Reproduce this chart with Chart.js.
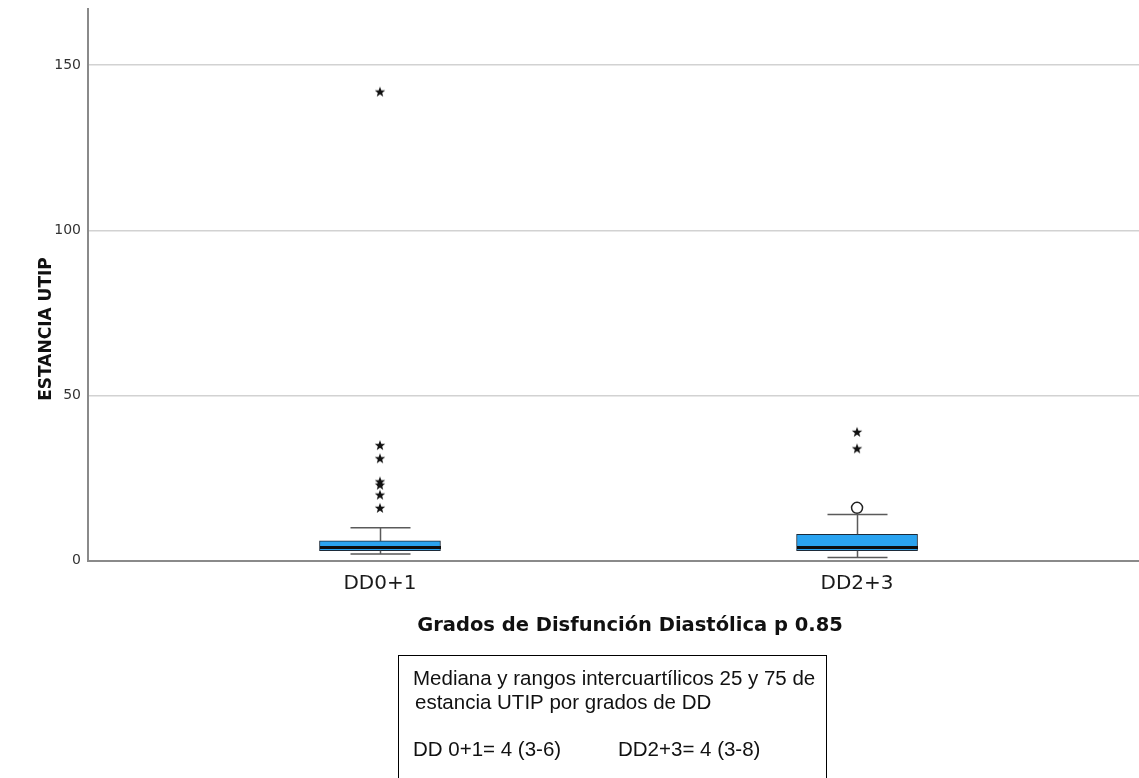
<!DOCTYPE html>
<html>
<head>
<meta charset="utf-8">
<script src="https://cdn.jsdelivr.net/npm/chart.js@4.4.1/dist/chart.umd.min.js"></script>
<style>
  html, body { margin: 0; padding: 0; background: #ffffff; }
  #wrap { width: 1139px; height: 778px; position: relative; }
  canvas { display: block; }
</style>
</head>
<body>
<div id="wrap"><canvas id="chart" width="1139" height="778"></canvas></div>
<script>
// Groups along the x axis
const categories = ['DD0+1', 'DD2+3'];

// Box-plot summary per group (days of stay)
const q1 = [3, 3];
const medians = [4, 4];
const q3 = [6, 8];
const whiskerLow = [2, 1];
const whiskerHigh = [10, 14];

// Extreme values (stars) and outliers (circles) per group
const extremesDD01 = [142, 35, 31, 24, 23, 20, 16];
const extremesDD23 = [39, 34];
const outliersDD23 = [16];

// Axis ticks and texts
const yTicks = [0, 50, 100, 150];
const yTitle = 'ESTANCIA UTIP';
const xTitle = 'Grados de Disfunción Diastólica p 0.85';
const noteLines = ['Mediana y rangos intercuartílicos 25 y 75 de', 'estancia UTIP por grados de DD'];
const noteSummary = ['DD 0+1= 4 (3-6)', 'DD2+3= 4 (3-8)'];

const BOX_WIDTH = 121;
const CAP_WIDTH = 60;

// Filled five-point star used for extreme values
function makeStar(size) {
  const c = document.createElement('canvas');
  c.width = size; c.height = size;
  const g = c.getContext('2d');
  const cx = size / 2, cy = size / 2 + 0.5;
  const outer = size / 2 - 0.5, inner = outer * 0.42;
  g.beginPath();
  for (let k = 0; k < 10; k++) {
    const r = k % 2 === 0 ? outer : inner;
    const a = -Math.PI / 2 + k * Math.PI / 5;
    const px = cx + r * Math.cos(a), py = cy + r * Math.sin(a);
    if (k === 0) g.moveTo(px, py); else g.lineTo(px, py);
  }
  g.closePath();
  g.fillStyle = '#111111';
  g.fill();
  return c;
}
const starImg = makeStar(12);

const boxData = categories.map((c, i) => ({ x: i, y: [q1[i], q3[i]] }));
const starData = [
  ...extremesDD01.map(v => ({ x: 0, y: v })),
  ...extremesDD23.map(v => ({ x: 1, y: v }))
];
const circleData = outliersDD23.map(v => ({ x: 1, y: v }));

// Whiskers, caps and median lines for each box
const boxDecor = {
  id: 'boxDecor',
  afterDatasetsDraw(chart) {
    const { ctx } = chart;
    const xs = chart.scales.x, ys = chart.scales.y;
    ctx.save();
    categories.forEach((c, i) => {
      const cx = Math.round(xs.getPixelForValue(i)) + 0.5;
      const yHi = ys.getPixelForValue(whiskerHigh[i]);
      const yLo = ys.getPixelForValue(whiskerLow[i]);
      const yQ3 = ys.getPixelForValue(q3[i]);
      const yQ1 = ys.getPixelForValue(q1[i]);
      ctx.strokeStyle = '#5a5a5a';
      ctx.lineWidth = 1.5;
      ctx.beginPath();
      ctx.moveTo(cx, yQ3); ctx.lineTo(cx, yHi);
      ctx.moveTo(cx - CAP_WIDTH / 2, yHi); ctx.lineTo(cx + CAP_WIDTH / 2, yHi);
      ctx.moveTo(cx, yQ1); ctx.lineTo(cx, yLo);
      ctx.moveTo(cx - CAP_WIDTH / 2, yLo); ctx.lineTo(cx + CAP_WIDTH / 2, yLo);
      ctx.stroke();
      const ym = ys.getPixelForValue(medians[i]);
      ctx.strokeStyle = '#0d0d0d';
      ctx.lineWidth = 3;
      ctx.beginPath();
      ctx.moveTo(cx - BOX_WIDTH / 2, ym); ctx.lineTo(cx + BOX_WIDTH / 2, ym);
      ctx.stroke();
    });
    ctx.restore();
  }
};

// Axis titles and the note box under the chart
const notes = {
  id: 'notes',
  afterDraw(chart) {
    const { ctx } = chart;
    ctx.save();
    ctx.fillStyle = '#111111';
    ctx.textBaseline = 'middle';
    ctx.textAlign = 'center';
    ctx.font = 'bold 19.5px "DejaVu Sans"';
    ctx.fillText(xTitle, 630, 626);

    ctx.save();
    ctx.translate(47, 329);
    ctx.rotate(-Math.PI / 2);
    ctx.font = 'bold 17px "DejaVu Sans"';
    ctx.fillText(yTitle, 0, 0);
    ctx.restore();

    ctx.strokeStyle = '#000000';
    ctx.lineWidth = 1;
    ctx.strokeRect(398.5, 655.5, 428, 140);

    ctx.textAlign = 'left';
    ctx.font = '20.5px "Liberation Sans"';
    ctx.fillText(noteLines[0], 413, 679);
    ctx.fillText(noteLines[1], 415, 703);
    ctx.fillText(noteSummary[0], 413, 750);
    ctx.fillText(noteSummary[1], 618, 750);
    ctx.restore();
  }
};

new Chart(document.getElementById('chart'), {
  data: {
    datasets: [
      {
        type: 'scatter',
        data: starData,
        pointStyle: starImg,
        order: 0
      },
      {
        type: 'scatter',
        data: circleData,
        pointStyle: 'circle',
        radius: 5.5,
        borderColor: '#222222',
        borderWidth: 1.5,
        backgroundColor: '#ffffff',
        order: 0
      },
      {
        type: 'bar',
        data: boxData,
        backgroundColor: '#2aa3f0',
        borderColor: '#1c2b3a',
        borderWidth: 1,
        borderSkipped: false,
        barThickness: BOX_WIDTH,
        grouped: false,
        order: 1
      }
    ]
  },
  options: {
    responsive: false,
    animation: false,
    devicePixelRatio: 1,
    layout: { autoPadding: false, padding: { top: 9, right: 0, left: 0, bottom: 0 } },
    plugins: {
      legend: { display: false },
      tooltip: { enabled: false },
      title: { display: false }
    },
    scales: {
      x: {
        type: 'linear',
        offset: false,
        min: -0.612,
        max: 1.591,
        afterBuildTicks(scale) { scale.ticks = categories.map((c, i) => ({ value: i })); },
        afterFit(scale) {
          scale.height = 217.3;
          scale.paddingLeft = 0;
          scale.paddingRight = 0;
        },
        ticks: {
          autoSkip: false,
          maxRotation: 0,
          padding: 11,
          color: '#1a1a1a',
          font: { family: 'DejaVu Sans', size: 20 },
          callback: (v) => categories[v]
        },
        grid: { display: false, drawTicks: false, offset: false },
        border: { display: true, color: '#8a8a8a', width: 2 }
      },
      y: {
        type: 'linear',
        min: 0,
        max: 167,
        afterBuildTicks(scale) { scale.ticks = yTicks.map(v => ({ value: v })); },
        afterFit(scale) {
          scale.width = 88;
          scale.paddingTop = 0;
          scale.paddingBottom = 0;
        },
        ticks: {
          padding: 7,
          color: '#333333',
          font: { family: 'DejaVu Sans', size: 14 }
        },
        grid: { color: '#d2d2d2', lineWidth: 1.5, drawTicks: false },
        border: { display: true, color: '#8a8a8a', width: 2 }
      }
    }
  },
  plugins: [boxDecor, notes]
});
</script>
</body>
</html>
